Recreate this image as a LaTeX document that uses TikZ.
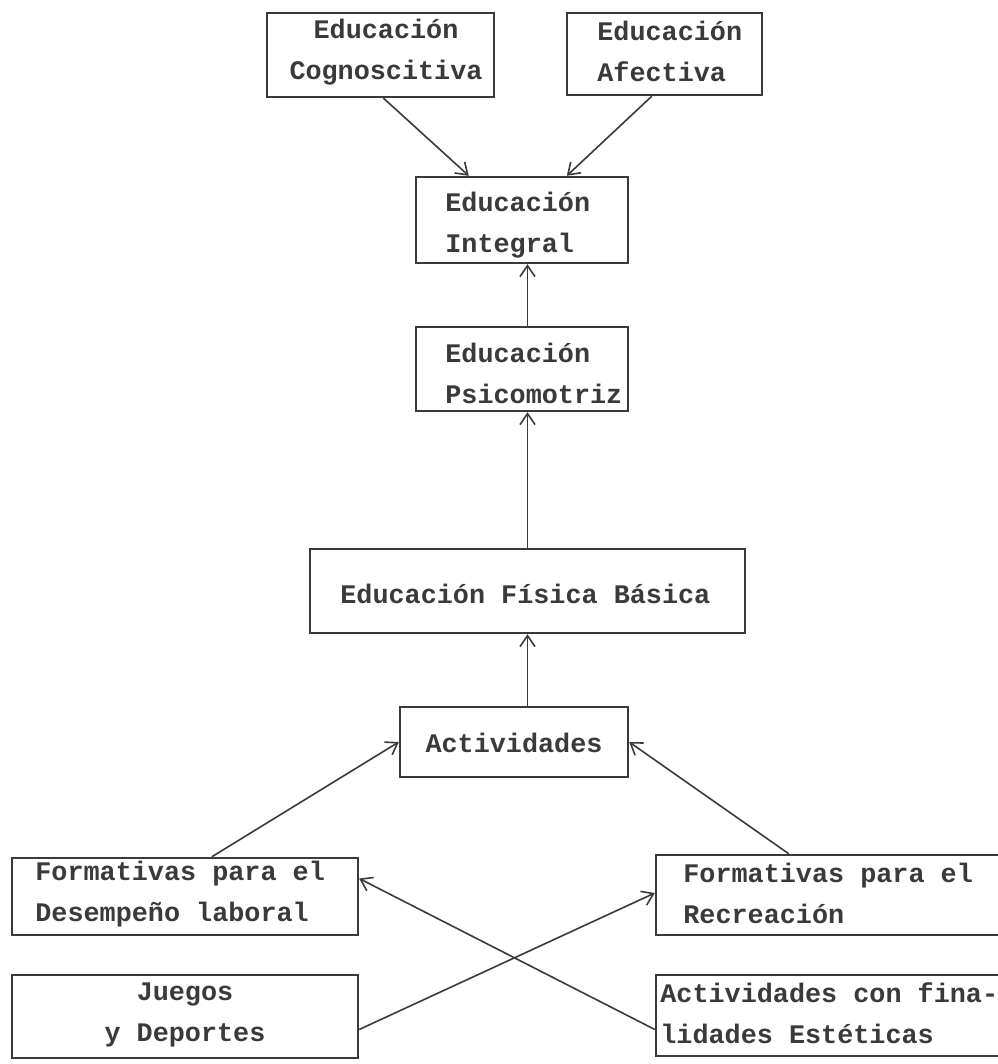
\documentclass[tikz,border=0pt]{standalone}
\usepackage{fontspec}
\setmonofont{Liberation Mono}
\usetikzlibrary{arrows.meta,calc}
\definecolor{ink}{HTML}{3A3A3A}
\begin{document}
\begin{tikzpicture}[x=0.5pt,y=-0.5pt,
  box/.style={draw=ink,line width=1.2pt,inner sep=0pt},
  txt/.style={inner sep=0pt,text=ink,font=\ttfamily\bfseries\fontsize{13.4}{20.5}\selectfont},
  arr/.style={draw=ink,line width=0.8pt,-{Straight Barb[length=5.5pt,width=7.5pt]}}]
\useasboundingbox (0,0) rectangle (997,1064);
% boxes
\node[box,minimum width=113.5pt,minimum height=42pt] (cog) at (380.5,55) {};
\node[box,minimum width=97.5pt,minimum height=41pt] (afe) at (664.5,54) {};
\node[box,minimum width=106pt,minimum height=43pt] (int) at (522,220) {};
\node[box,minimum width=106pt,minimum height=42pt] (psi) at (522,369) {};
\node[box,minimum width=217.5pt,minimum height=42pt] (fis) at (527.5,591) {};
\node[box,minimum width=114pt,minimum height=35pt] (act) at (514,742) {};
\node[box,minimum width=173pt,minimum height=38.5pt] (fd) at (185,896.5) {};
\node[box,minimum width=174.5pt,minimum height=40pt] (fr) at (830.5,895) {};
\node[box,minimum width=173pt,minimum height=41.5pt] (jd) at (185,1016.5) {};
\node[box,minimum width=174.5pt,minimum height=40.5pt] (ae) at (830.5,1015.5) {};
% texts
\node[txt,align=center] (cogT) at (386,52) {Educación\\Cognoscitiva};
\node[txt,align=left,anchor=west] (afeT) at (597,51) {Educación\\Afectiva};
\node[txt,align=left,anchor=west] (intT) at (445,225) {Educación\\Integral};
\node[txt,align=left,anchor=west] (psiT) at (445,373) {Educación\\Psicomotriz};
\node[txt,anchor=west] (fisT) at (340,594) {Educación Física Básica};
\node[txt] (actT) at (514,743) {Actividades};
\node[txt,align=left,anchor=west] (fdT) at (35,894) {Formativas para el\\Desempeño laboral};
\node[txt,align=left,anchor=west] (frT) at (683,893) {Formativas para el\\Recreación};
\node[txt,align=center] (jdT) at (185,1015) {Juegos\\y Deportes};
\node[txt,align=left,anchor=west] (aeT) at (660,1013) {Actividades con fina-\\lidades Estéticas};
% connectors
\draw[arr] ($(cog.south)+(3,0)$) -- ($(int.north west)+(54,0)$);
\draw[arr] ($(afe.south west)+(86,0)$) -- ($(int.north west)+(152,0)$);
\draw[arr] (psi.north -| fis.north) -- (int.south -| fis.north);
\draw[arr] (fis.north) -- (psi.south -| fis.north);
\draw[arr] (act.north -| fis.north) -- (fis.south);
\draw[arr] ($(fd.north west)+(201,0)$) -- (act.west);
\draw[arr] ($(fr.north west)+(134,0)$) -- (act.east);
\draw[arr] ($(jd.east)+(0,13)$) -- ($(fr.west)+(0,-2)$);
\draw[arr] ($(ae.west)+(0,14)$) -- ($(fd.east)+(0,-18)$);
\end{tikzpicture}
\end{document}
